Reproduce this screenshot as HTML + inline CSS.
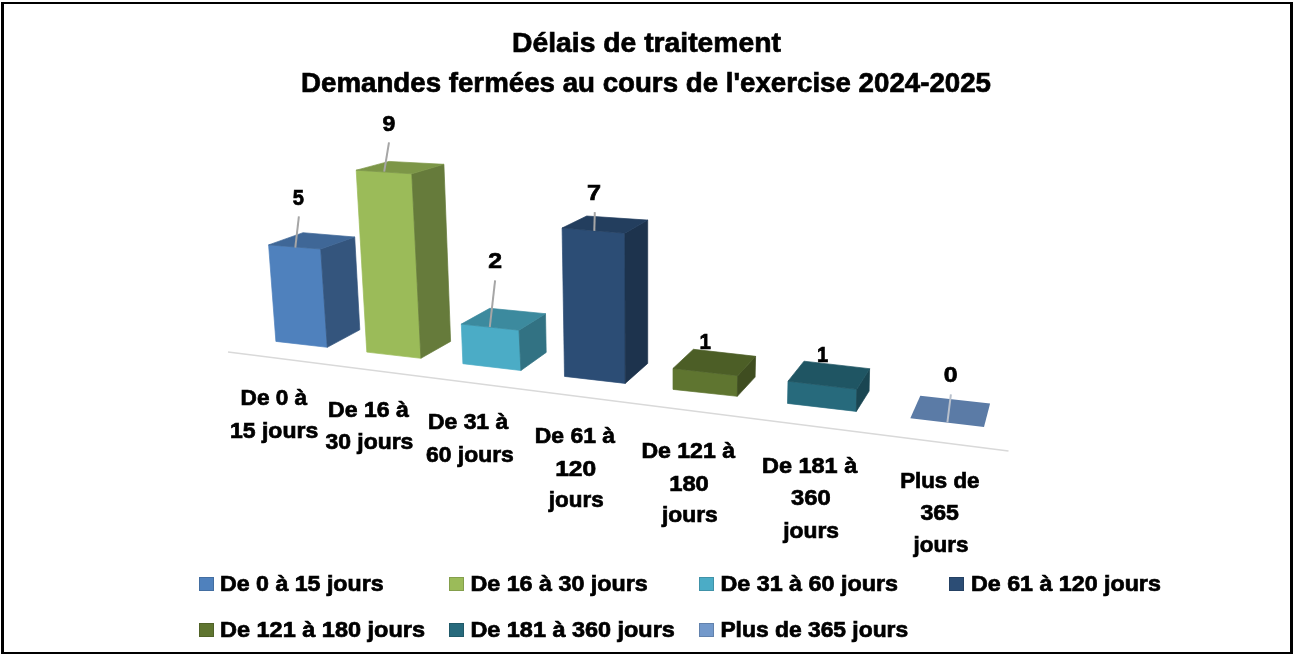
<!DOCTYPE html>
<html><head><meta charset="utf-8"><style>
html,body{margin:0;padding:0;background:#fff;width:1294px;height:656px;overflow:hidden}
svg{display:block;will-change:transform}
polygon{stroke-width:0.7;stroke-linejoin:round}
text{font-family:"Liberation Sans", sans-serif;font-weight:bold;fill:#000;stroke:#000;stroke-width:0.7}
</style></head><body>
<svg width="1294" height="656" viewBox="0 0 1294 656">
<rect x="0" y="0" width="1294" height="656" fill="#fff"/>
<path d="M1,2 H1293 V654 H1 Z M4,4 V652 H1290 V4 Z" fill="#000" fill-rule="evenodd"/>
<line x1="228" y1="352" x2="1008.5" y2="451" stroke="#d9d9d9" stroke-width="1.6"/>
<polygon points="268.6,244.9 320.7,249.0 327.3,347.3 275.9,341.4" fill="#4F81BD" stroke="#4F81BD"/>
<polygon points="320.7,249.0 354.7,237.0 359.8,329.8 327.3,347.3" fill="#34557D" stroke="#34557D"/>
<polygon points="268.6,244.9 303.0,232.7 354.7,237.0 320.7,249.0" fill="#3F6797" stroke="#3F6797"/>
<polygon points="356.2,170.2 411.8,173.8 420.9,358.3 366.8,352.1" fill="#9BBB59" stroke="#9BBB59"/>
<polygon points="411.8,173.8 443.9,164.3 450.6,341.4 420.9,358.3" fill="#667B3B" stroke="#667B3B"/>
<polygon points="356.2,170.2 389.0,161.4 443.9,164.3 411.8,173.8" fill="#7C9647" stroke="#7C9647"/>
<polygon points="461.3,324.1 519.0,330.2 520.9,370.5 462.9,363.7" fill="#4BACC6" stroke="#4BACC6"/>
<polygon points="519.0,330.2 545.5,313.7 546.2,352.4 520.9,370.5" fill="#327283" stroke="#327283"/>
<polygon points="461.3,324.1 489.8,308.3 545.5,313.7 519.0,330.2" fill="#3C8A9E" stroke="#3C8A9E"/>
<polygon points="562.1,228.0 624.9,233.2 625.2,383.4 564.5,376.4" fill="#2C4D75" stroke="#2C4D75"/>
<polygon points="624.9,233.2 647.7,220.1 647.7,363.4 625.2,383.4" fill="#1D334D" stroke="#1D334D"/>
<polygon points="562.1,228.0 586.7,216.0 647.7,220.1 624.9,233.2" fill="#233E5E" stroke="#233E5E"/>
<polygon points="673.0,368.4 737.7,375.7 737.3,396.3 673.0,389.4" fill="#5F7530" stroke="#5F7530"/>
<polygon points="737.7,375.7 755.6,356.3 755.1,377.1 737.3,396.3" fill="#3F4D20" stroke="#3F4D20"/>
<polygon points="673.0,368.4 693.4,349.3 755.6,356.3 737.7,375.7" fill="#4C5E26" stroke="#4C5E26"/>
<polygon points="788.0,381.2 856.8,389.3 856.3,411.4 787.5,403.4" fill="#276A7C" stroke="#276A7C"/>
<polygon points="856.8,389.3 869.6,368.7 869.1,391.1 856.3,411.4" fill="#1A4652" stroke="#1A4652"/>
<polygon points="788.0,381.2 804.0,361.2 869.6,368.7 856.8,389.3" fill="#1F5563" stroke="#1F5563"/>
<polygon points="910.3,418.3 920.3,395.7 990.1,403.4 984.0,426.9" fill="#5B7BA6"/>
<line x1="298.9" y1="216.3" x2="295.3" y2="247.7" stroke="#a6a6a6" stroke-width="2"/>
<line x1="389" y1="142.3" x2="384.2" y2="171.7" stroke="#a6a6a6" stroke-width="2"/>
<line x1="495.1" y1="280.4" x2="489.8" y2="327" stroke="#a6a6a6" stroke-width="2"/>
<line x1="594.8" y1="212.1" x2="594.3" y2="230.9" stroke="#a6a6a6" stroke-width="2"/>
<line x1="950.9" y1="394.3" x2="947.4" y2="422.3" stroke="#b8c0cc" stroke-width="2"/>
<rect x="199.5" y="577.5" width="14" height="13" fill="#4F81BD" stroke="#436EA1" stroke-width="1"/>
<rect x="449.5" y="577.5" width="14" height="13" fill="#9BBB59" stroke="#849F4C" stroke-width="1"/>
<rect x="699.5" y="577.5" width="14" height="13" fill="#4BACC6" stroke="#4092A8" stroke-width="1"/>
<rect x="949.5" y="577.5" width="14" height="13" fill="#2C4D75" stroke="#254163" stroke-width="1"/>
<rect x="199.5" y="623.5" width="14" height="13" fill="#5F7530" stroke="#516329" stroke-width="1"/>
<rect x="449.5" y="623.5" width="14" height="13" fill="#276A7C" stroke="#215A69" stroke-width="1"/>
<rect x="699.5" y="623.5" width="14" height="13" fill="#7399CB" stroke="#6282AD" stroke-width="1"/>
<text x="512.00" y="52.0" font-size="28" textLength="269.00" lengthAdjust="spacingAndGlyphs">Délais de traitement</text>
<text x="301.00" y="92.0" font-size="28" textLength="690.00" lengthAdjust="spacingAndGlyphs">Demandes fermées au cours de l'exercise 2024-2025</text>
<text x="240.60" y="404.7" font-size="22.3" textLength="66.60" lengthAdjust="spacingAndGlyphs">De 0 à</text>
<text x="230.00" y="438.3" font-size="22.3" textLength="88.20" lengthAdjust="spacingAndGlyphs">15 jours</text>
<text x="328.00" y="416.7" font-size="22.3" textLength="80.80" lengthAdjust="spacingAndGlyphs">De 16 à</text>
<text x="325.40" y="449.0" font-size="22.3" textLength="88.00" lengthAdjust="spacingAndGlyphs">30 jours</text>
<text x="428.00" y="429.4" font-size="22.3" textLength="80.20" lengthAdjust="spacingAndGlyphs">De 31 à</text>
<text x="426.00" y="462.2" font-size="22.3" textLength="87.80" lengthAdjust="spacingAndGlyphs">60 jours</text>
<text x="534.80" y="443.0" font-size="22.3" textLength="80.20" lengthAdjust="spacingAndGlyphs">De 61 à</text>
<text x="555.20" y="475.8" font-size="22.3" textLength="41.00" lengthAdjust="spacingAndGlyphs">120</text>
<text x="548.80" y="507.4" font-size="22.3" textLength="54.80" lengthAdjust="spacingAndGlyphs">jours</text>
<text x="641.40" y="457.8" font-size="22.3" textLength="93.60" lengthAdjust="spacingAndGlyphs">De 121 à</text>
<text x="669.20" y="490.7" font-size="22.3" textLength="39.60" lengthAdjust="spacingAndGlyphs">180</text>
<text x="662.00" y="522.2" font-size="22.3" textLength="55.80" lengthAdjust="spacingAndGlyphs">jours</text>
<text x="762.00" y="472.8" font-size="22.3" textLength="95.20" lengthAdjust="spacingAndGlyphs">De 181 à</text>
<text x="791.00" y="505.3" font-size="22.3" textLength="39.60" lengthAdjust="spacingAndGlyphs">360</text>
<text x="783.20" y="537.6" font-size="22.3" textLength="55.80" lengthAdjust="spacingAndGlyphs">jours</text>
<text x="900.20" y="488.3" font-size="22.3" textLength="79.20" lengthAdjust="spacingAndGlyphs">Plus de</text>
<text x="920.40" y="520.2" font-size="22.3" textLength="38.60" lengthAdjust="spacingAndGlyphs">365</text>
<text x="913.60" y="552.0" font-size="22.3" textLength="54.80" lengthAdjust="spacingAndGlyphs">jours</text>
<text x="292.80" y="204.7" font-size="22.3" textLength="11.20" lengthAdjust="spacingAndGlyphs">5</text>
<text x="382.60" y="130.8" font-size="22.3" textLength="12.80" lengthAdjust="spacingAndGlyphs">9</text>
<text x="488.20" y="268.1" font-size="22.3" textLength="13.80" lengthAdjust="spacingAndGlyphs">2</text>
<text x="587.00" y="199.9" font-size="22.3" textLength="14.00" lengthAdjust="spacingAndGlyphs">7</text>
<text x="699.60" y="349.0" font-size="22.3" textLength="11.40" lengthAdjust="spacingAndGlyphs">1</text>
<text x="817.00" y="361.8" font-size="22.3" textLength="11.20" lengthAdjust="spacingAndGlyphs">1</text>
<text x="943.80" y="381.7" font-size="22.3" textLength="13.80" lengthAdjust="spacingAndGlyphs">0</text>
<text x="220.00" y="591.0" font-size="22.3" textLength="163.60" lengthAdjust="spacingAndGlyphs">De 0 à 15 jours</text>
<text x="470.40" y="591.0" font-size="22.3" textLength="177.40" lengthAdjust="spacingAndGlyphs">De 16 à 30 jours</text>
<text x="720.40" y="591.0" font-size="22.3" textLength="177.60" lengthAdjust="spacingAndGlyphs">De 31 à 60 jours</text>
<text x="971.00" y="591.0" font-size="22.3" textLength="189.80" lengthAdjust="spacingAndGlyphs">De 61 à 120 jours</text>
<text x="220.00" y="637.0" font-size="22.3" textLength="205.00" lengthAdjust="spacingAndGlyphs">De 121 à 180 jours</text>
<text x="470.40" y="637.0" font-size="22.3" textLength="204.40" lengthAdjust="spacingAndGlyphs">De 181 à 360 jours</text>
<text x="720.40" y="637.0" font-size="22.3" textLength="187.80" lengthAdjust="spacingAndGlyphs">Plus de 365 jours</text>
</svg>
</body></html>
